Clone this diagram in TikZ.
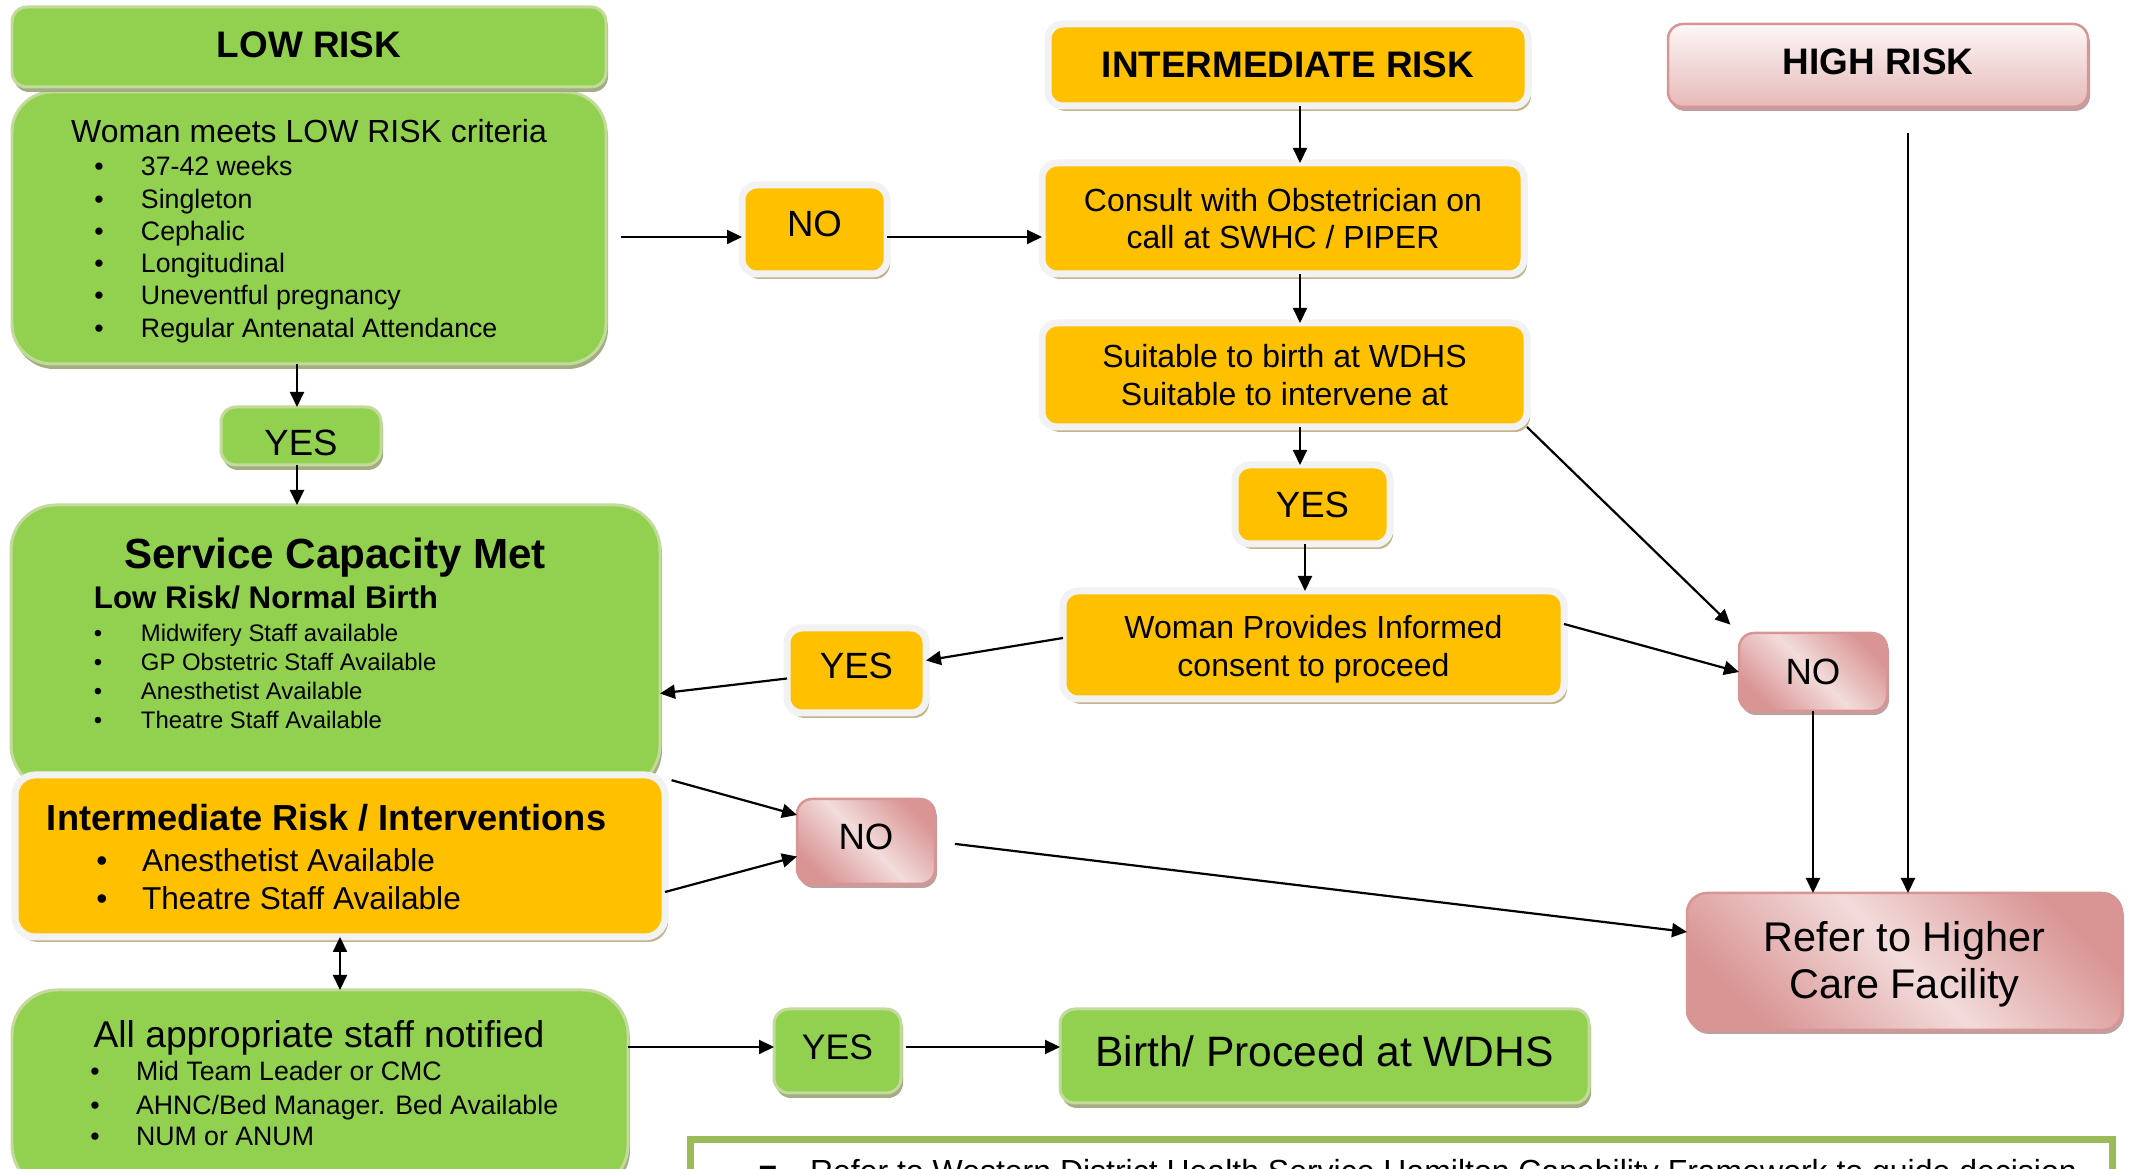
\documentclass[tikz,border=0pt]{standalone}
\usepackage{fontspec}
\setmainfont{Liberation Sans}
\newfontfamily\djv{DejaVu Sans}
\usetikzlibrary{arrows.meta,shadows}
\definecolor{gfill}{HTML}{92D050}
\definecolor{gborder}{HTML}{C3DB9A}
\definecolor{gshadow}{HTML}{A3AD84}
\definecolor{yfill}{HTML}{FFC000}
\definecolor{yborder}{HTML}{F2F2F2}
\definecolor{yshadow}{HTML}{C3B48C}
\definecolor{pdark}{HTML}{D99594}
\definecolor{plight}{HTML}{F2DCDB}
\definecolor{pborder}{HTML}{D99594}
\definecolor{pshadow}{HTML}{BFA0A0}
\definecolor{htop}{HTML}{FDF7F7}
\definecolor{hbot}{HTML}{E6B9B8}
\definecolor{nborder}{HTML}{9BBB59}
\newcommand\fsz[2]{\fontsize{#1}{#2}\selectfont}
\newcommand\up[2]{\raisebox{#1}[\height][\depth]{#2}}
\newcommand\pbox[6]{\node[#1, minimum width={(#5-#3)*0.1mm}, minimum height={(#6-#4)*0.1mm}] (#2) at ({(#3+#5)/2},{(#4+#6)/2})}
\newcounter{ln}
\newcommand\bline[5]{\stepcounter{ln}%
 \node[txt] (bu\theln) at (#1,#3) {\fsz{#4}{#4}•};%
 \node[txt,anchor=base west] (li\theln) at (#2,#3) {\fsz{#4}{#4}#5};}
\begin{document}
\begin{tikzpicture}[x=0.1mm,y=-0.1mm,
 txt/.style={inner sep=0pt, outer sep=0pt, anchor=base},
 gbox/.style={draw=gborder, line width=0.3mm, fill=gfill, rounded corners=1.5mm, inner sep=0pt, outer sep=0pt,
   drop shadow={shadow xshift=0.2mm, shadow yshift=-0.5mm, fill=gshadow, opacity=1}},
 ybox/.style={draw=yborder, line width=0.7mm, fill=yfill, rounded corners=1.5mm, inner sep=0pt, outer sep=0pt,
   drop shadow={shadow xshift=0.3mm, shadow yshift=-0.5mm, fill=yshadow, opacity=1}},
 pkbox/.style={draw=pborder, line width=0.25mm, rounded corners=1.5mm, inner sep=0pt, outer sep=0pt,
   top color=pdark, bottom color=pdark, middle color=plight, shading angle=-45,
   drop shadow={shadow xshift=0.2mm, shadow yshift=-0.4mm, fill=pshadow, opacity=1}},
 hbox/.style={draw=pborder, line width=0.25mm, rounded corners=1.5mm, inner sep=0pt, outer sep=0pt,
   top color=htop, bottom color=hbot,
   drop shadow={shadow xshift=0.2mm, shadow yshift=-0.4mm, fill=pshadow, opacity=1}},
 arr/.style={-{Triangle[length=1.5mm,width=1.4mm]}, line width=0.22mm},
 arrb/.style={{Triangle[length=1.5mm,width=1.4mm]}-{Triangle[length=1.5mm,width=1.4mm]}, line width=0.22mm}]
\useasboundingbox (0,0) rectangle (2130,1169);
\clip (0,0) rectangle (2130,1169);
\fill[white] (0,0) rectangle (2130,1169);

% ---- low risk column
\pbox{gbox, rounded corners=4mm}{lowc}{12}{92}{606}{364} {};
\pbox{gbox}{low}{12}{7}{606}{87} {\fsz{10.5}{12}\bfseries\up{0.25mm}{LOW RISK}};
\node[txt] (lowct) at (309,143) {\fsz{9.1}{11}Woman meets LOW RISK criteria};
\bline{99}{141}{176}{7.6}{37-42 weeks}
\bline{99}{141}{208.5}{7.6}{Singleton}
\bline{99}{141}{241}{7.6}{Cephalic}
\bline{99}{141}{273}{7.6}{Longitudinal}
\bline{99}{141}{305}{7.6}{Uneventful pregnancy}
\bline{99}{141}{338}{7.6}{Regular Antenatal Attendance}

\pbox{gbox}{yesg1}{221}{407}{381}{465} {\fsz{10.4}{12}\up{-0.7mm}{YES}};

\pbox{gbox, rounded corners=4.5mm}{svc}{11}{505}{660}{790} {};
\node[txt] (svct) at (335,569) {\fsz{12}{14}\bfseries Service Capacity Met};
\node[txt,anchor=base west] (svcs) at (94,609) {\fsz{8.9}{10}\bfseries Low Risk/ Normal Birth};
\bline{98}{141}{642}{6.8}{Midwifery Staff available}
\bline{98}{141}{671}{6.8}{GP Obstetric Staff Available}
\bline{98}{141}{700}{6.8}{Anesthetist Available}
\bline{98}{141}{729}{6.8}{Theatre Staff Available}

\pbox{ybox, rounded corners=2mm}{inter2}{15}{775}{665}{937} {};
\node[txt,anchor=base west] (i2t) at (47,831) {\fsz{10.3}{12}\bfseries Intermediate Risk / Interventions};
\bline{102}{142}{872}{9}{Anesthetist Available}
\bline{102}{142}{910}{9}{Theatre Staff Available}

\pbox{gbox, rounded corners=4.5mm}{allst}{12}{990}{628}{1190} {};
\node[txt] (allt) at (319,1048) {\fsz{10.6}{12}All appropriate staff notified};
\bline{95}{136}{1081}{7.6}{Mid Team Leader or CMC}
\bline{95}{136}{1115}{7.6}{AHNC/Bed Manager. Bed Available}
\bline{95}{136}{1146}{7.6}{NUM or ANUM}

\pbox{gbox}{yesg2}{774}{1009}{901}{1093} {\fsz{10.1}{12}\up{0.4mm}{YES}};
\pbox{gbox}{birth}{1060}{1009}{1589}{1103} {\fsz{12.1}{14}\up{0.5mm}{Birth/ Proceed at WDHS}};

% ---- intermediate column
\pbox{ybox}{no1}{742}{185}{887}{274} {\fsz{10.4}{12}\up{0.55mm}{NO}};
\pbox{ybox}{intr}{1048}{24}{1528}{106} {\fsz{10.5}{12}\bfseries INTERMEDIATE RISK};
\pbox{ybox, align=center, font={\fsz{9.1}{10.5}}}{cons}{1042}{163}{1524}{274} {Consult with Obstetrician on\\call at SWHC / PIPER};
\pbox{ybox}{suit}{1042}{323}{1527}{427} {\fsz{9.1}{10.8}\up{-0.4mm}{\begin{tabular}{@{}c@{}}Suitable to birth at WDHS\\Suitable to intervene at\end{tabular}}};
\pbox{ybox}{yes2}{1235}{465}{1390}{544} {\fsz{10.4}{12}YES};
\pbox{ybox}{cons2}{1063}{591}{1564}{699} {\fsz{9.1}{10.8}\up{-0.45mm}{\begin{tabular}{@{}c@{}}Woman Provides Informed\\consent to proceed\end{tabular}}};
\pbox{ybox}{yes1}{787}{628}{926}{713} {\fsz{10.4}{12}\up{0.5mm}{YES}};

% ---- high risk column
\pbox{hbox}{high}{1668}{24}{2088}{107} {\fsz{10.5}{12}\bfseries\up{0.4mm}{HIGH RISK}};
\pbox{pkbox}{no2}{1739}{633}{1887}{711} {\fsz{10.4}{12}NO};
\pbox{pkbox}{no3}{797}{799}{935}{884} {\fsz{10.4}{12}\up{0.5mm}{NO}};
\pbox{pkbox, rounded corners=2mm}{refer}{1687}{893}{2122}{1030} {\fsz{11.8}{13.4}\up{-0.4mm}{\begin{tabular}{@{}c@{}}Refer to Higher\\Care Facility\end{tabular}}};

% ---- note
\pbox{draw=nborder, line width=0.7mm, fill=white, inner sep=0pt}{note}{690}{1140}{2112}{1220} {};
\node[txt] (nb) at (768,1183) {\djv\fsz{9.1}{11}▪};
\node[txt,anchor=base west] (nt) at (810,1183) {\fsz{9.1}{11}Refer to Western District Health Service Hamilton Capability Framework to guide decision};

% ---- connectors
\coordinate (r1) at (0,237);
\coordinate (r2) at (0,1047);
\coordinate (c1) at (1300,0);
\coordinate (c2) at (1305,0);
\coordinate (c3) at (297,0);
\coordinate (c4) at (1908,0);

\draw[arr, shorten <=1.5mm] (lowc.east |- r1) -- (no1.west |- r1);
\draw[arr] (no1.east |- r1) -- (cons.west |- r1);
\draw[arr] (intr.south -| c1) -- (cons.north -| c1);
\draw[arr] (cons.south -| c1) -- (suit.north -| c1);
\draw[arr] (suit.south -| c1) -- (yes2.north -| c1);
\draw[arr] (yes2.south -| c2) -- (cons2.north -| c2);
\draw[arr, shorten >=1.2mm] (suit.south east) -- (no2.north west);
\draw[arr] ([yshift=2.1mm]cons2.east) -- (no2.west);
\draw[arr] ([yshift=0.7mm]cons2.west) -- ([yshift=1mm]yes1.east);
\draw[arr] ([yshift=-0.8mm]yes1.west) -- ([yshift=-4.6mm]svc.east);
\draw[arr] (no2.south) -- (refer.north -| no2.south);
\draw[arr, shorten <=2.6mm] (high.south -| c4) -- (refer.north -| c4);
\draw[arr] (lowc.south -| c3) -- (yesg1.north -| c3);
\draw[arr] (yesg1.south -| c3) -- (svc.north -| c3);
\draw[arr, shorten <=1.2mm] ([yshift=1.3mm]svc.south east) -- ([yshift=2.65mm]no3.west);
\draw[arr] ([yshift=-3.6mm]inter2.east) -- ([yshift=-1.5mm]no3.west);
\draw[arr, shorten <=2mm] (no3.east) -- ([yshift=2.95mm]refer.west);
\draw[arrb] (inter2.south) -- (allst.north -| inter2.south);
\draw[arr] (allst.east |- r2) -- (yesg2.west |- r2);
\draw[arr, shorten <=0.5mm] (yesg2.east |- r2) -- (birth.west |- r2);
\end{tikzpicture}
\end{document}
